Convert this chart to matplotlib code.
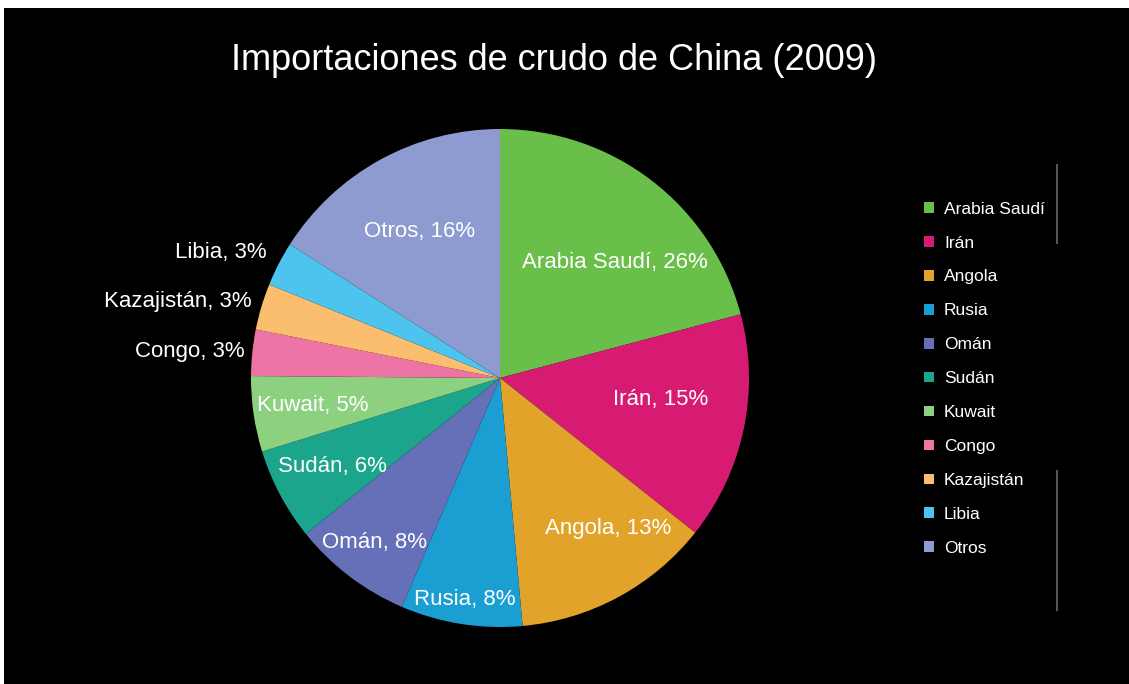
import matplotlib as mpl
mpl.use("Agg")
import matplotlib.pyplot as plt
import numpy as np
from matplotlib.patches import Rectangle, Patch
from matplotlib.lines import Line2D

plt.rcParams['font.family'] = ['Liberation Sans', 'DejaVu Sans']

paises = ["Arabia Saudí", "Irán", "Angola", "Rusia", "Omán", "Sudán",
          "Kuwait", "Congo", "Kazajistán", "Libia", "Otros"]
cuota = [20.9, 14.8, 12.9, 7.9, 7.8, 6.0, 4.9, 3.0, 3.0, 2.9, 16.0]
etiqueta_pct = [26, 15, 13, 8, 8, 6, 5, 3, 3, 3, 16]
colores = ["#6abf4b", "#d81b72", "#e2a32a", "#1b9fd3", "#6670b8", "#1aa58c",
           "#8dd07f", "#ee74a6", "#fbbe6e", "#4dc4ee", "#8e9bd0"]

# label placement: fraction of radius and angle shift from the slice middle
dist = [0.655, 0.65, 0.745, 0.90, 0.83, 0.76, 0.76, 1.03, 1.042, 1.064, 0.67]
desv = [-7.4, 4.3, 7.4, 0, 0, 0, 0, 0, -0.5, -1.1, 0]
fuera = [False] * 7 + [True] * 3 + [False]

W, H = 1129, 684
fig = plt.figure(figsize=(W / 100, H / 100), dpi=100)
fig.patch.set_facecolor("white")
fig.add_artist(Rectangle((4 / W, 0), 1, 1 - 8 / H, transform=fig.transFigure,
                         facecolor="black", edgecolor="none", zorder=0))

cx, cy, r = 500, 378, 249
ax = fig.add_axes([(cx - r) / W, (H - cy - r) / H, 2 * r / W, 2 * r / H])
ax.set_facecolor("none")
wedges, _ = ax.pie(cuota, colors=colores, startangle=90, counterclock=False,
                   radius=1, wedgeprops=dict(linewidth=0))
ax.set_xlim(-1, 1)
ax.set_ylim(-1, 1)
ax.set_aspect("equal")
ax.axis("off")

for w, nombre, p, d, dv, f in zip(wedges, paises, etiqueta_pct, dist, desv, fuera):
    ang = np.deg2rad((w.theta1 + w.theta2) / 2 + dv)
    x, y = d * np.cos(ang), d * np.sin(ang)
    ax.text(x, y, "%s, %d%%" % (nombre, p), color="white", fontsize=16,
            ha="right" if f else "center", va="center")

fig.text(554 / W, 1 - 60 / H, "Importaciones de crudo de China (2009)",
         color="white", fontsize=26, ha="center", va="center")

handles = [Patch(facecolor=c, edgecolor="none") for c in colores]
leg = fig.legend(handles, paises, loc="upper left",
                 bbox_to_anchor=(908 / W, 1 - 186 / H), frameon=False,
                 fontsize=12.5, labelcolor="white", handlelength=0.57,
                 handleheight=0.57, handletextpad=0.6, labelspacing=1.09)

# faint grey bars at the right of the legend
for y0, y1 in [(165, 243), (471, 610)]:
    fig.add_artist(Line2D([1057 / W, 1057 / W], [1 - y0 / H, 1 - y1 / H],
                          transform=fig.transFigure, color="#555555", linewidth=1.5))

fig.savefig("out.png", dpi=100, facecolor=fig.get_facecolor())
